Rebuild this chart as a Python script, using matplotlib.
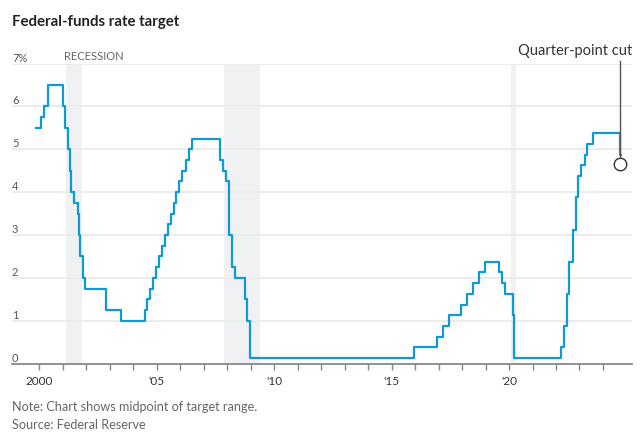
import matplotlib
matplotlib.use('Agg')
import matplotlib.pyplot as plt
import pandas as pd

plt.rcParams['font.family'] = ['Lato', 'DejaVu Sans']

# Federal-funds target changes (midpoint of target range, %)
change_dates = [
    '1999-11-16', '2000-02-02', '2000-03-21', '2000-05-16',
    '2001-01-03', '2001-01-31', '2001-03-20', '2001-04-18', '2001-05-15',
    '2001-06-27', '2001-08-21', '2001-09-17', '2001-10-02', '2001-11-06',
    '2001-12-11', '2002-11-06', '2003-06-25',
    '2004-06-30', '2004-08-10', '2004-09-21', '2004-11-10', '2004-12-14',
    '2005-02-02', '2005-03-22', '2005-05-03', '2005-06-30', '2005-08-09',
    '2005-09-20', '2005-11-01', '2005-12-13', '2006-01-31', '2006-03-28',
    '2006-05-10', '2006-06-29',
    '2007-09-18', '2007-10-31', '2007-12-11', '2008-01-22', '2008-01-30',
    '2008-03-18', '2008-04-30', '2008-10-08', '2008-10-29', '2008-12-16',
    '2015-12-16', '2016-12-14', '2017-03-15', '2017-06-14', '2017-12-13',
    '2018-03-21', '2018-06-13', '2018-09-26', '2018-12-19',
    '2019-07-31', '2019-09-18', '2019-10-30', '2020-03-03', '2020-03-15',
    '2022-03-16', '2022-05-04', '2022-06-15', '2022-07-27', '2022-09-21',
    '2022-11-02', '2022-12-14', '2023-02-01', '2023-03-22', '2023-05-03',
    '2023-07-26', '2024-09-18', '2024-10-01',
]
rates = [
    5.5, 5.75, 6.0, 6.5,
    6.0, 5.5, 5.0, 4.5, 4.0,
    3.75, 3.5, 3.0, 2.5, 2.0,
    1.75, 1.25, 1.0,
    1.25, 1.5, 1.75, 2.0, 2.25,
    2.5, 2.75, 3.0, 3.25, 3.5,
    3.75, 4.0, 4.25, 4.5, 4.75,
    5.0, 5.25,
    4.75, 4.5, 4.25, 3.5, 3.0,
    2.25, 2.0, 1.5, 1.0, 0.125,
    0.375, 0.625, 0.875, 1.125, 1.375,
    1.625, 1.875, 2.125, 2.375,
    2.125, 1.875, 1.625, 1.125, 0.125,
    0.375, 0.875, 1.625, 2.375, 3.125,
    3.875, 4.375, 4.625, 4.875, 5.125,
    5.375, 4.875, 4.875,
]

recessions = [('2001-02-15', '2001-11-01'), ('2007-11-20', '2009-06-01'), ('2020-02-01', '2020-04-15')]

cut_date = '2024-09-18'
cut_marker_value = 4.65

x_years = list(range(2000, 2025))
label_years = {2000: '2000', 2005: "'05", 2010: "'10", 2015: "'15", 2020: "'20"}
y_ticks = [0, 1, 2, 3, 4, 5, 6, 7]

dates = pd.to_datetime(change_dates)

fig = plt.figure(figsize=(6.42, 4.38), dpi=100)
ax = fig.add_axes([12 / 642, 1 - 363.5 / 438, 620 / 642, 300 / 438])

line_color = '#0d9bd8'
text_color = '#333333'

# Recession bands
for start, end in recessions:
    ax.axvspan(pd.Timestamp(start), pd.Timestamp(end), color='#f0f1f3', zorder=0, lw=0)

# Gridlines
for y in y_ticks[1:]:
    ax.axhline(y, color='#ebebeb', lw=1.3, zorder=1)

ax.plot(dates, rates, drawstyle='steps-post', color=line_color, lw=1.6, zorder=3)

ax.set_xlim(pd.Timestamp('1998-11-03'), pd.Timestamp('2025-03-28'))
ax.set_ylim(0, 7)

# Y labels sit above gridlines at the left
for y in y_ticks:
    lab = '7%' if y == 7 else str(y)
    ax.text(0, y, lab, transform=ax.get_yaxis_transform(), ha='left', va='bottom',
            fontsize=8, color='#555555')
ax.set_yticks([])

# X ticks
tick_dates = [pd.Timestamp(f'{yr}-01-01') for yr in x_years]
ax.set_xticks(tick_dates)
ax.set_xticklabels([label_years.get(yr, '') for yr in x_years])
ax.tick_params(axis='x', length=4, width=1, color='#888888', labelsize=8.5,
               labelcolor=text_color, pad=5)

for s in ['top', 'right', 'left']:
    ax.spines[s].set_visible(False)
ax.spines['bottom'].set_color('#888888')
ax.spines['bottom'].set_linewidth(1.3)

# Recession label
ax.text(pd.Timestamp('2001-01-20'), 7.03, 'RECESSION', ha='left', va='bottom',
        fontsize=8, color='#666666')

# Quarter-point cut annotation
cut = pd.Timestamp(cut_date)
ax.plot([cut], [cut_marker_value], marker='o', ms=9, mfc='none',
        mec='#333333', mew=1, zorder=4, clip_on=False)
ax.plot([cut, cut], [cut_marker_value + 0.15, 7.05], color='#555555', lw=1,
        zorder=4, clip_on=False)
ax.text(1.0, 7.12, 'Quarter-point cut', transform=ax.get_yaxis_transform(),
        ha='right', va='bottom', fontsize=10.5, color=text_color)

fig.text(12 / 642, 1 - 22 / 438, 'Federal-funds rate target', fontsize=10.8, fontweight='bold',
         color='#222222', ha='left', va='center')
fig.text(12 / 642, 1 - 407 / 438, 'Note: Chart shows midpoint of target range.', fontsize=9.1,
         color='#666666', ha='left', va='center')
fig.text(12 / 642, 1 - 425 / 438, 'Source: Federal Reserve', fontsize=9.1,
         color='#666666', ha='left', va='center')

fig.savefig('out.png', dpi=100)
